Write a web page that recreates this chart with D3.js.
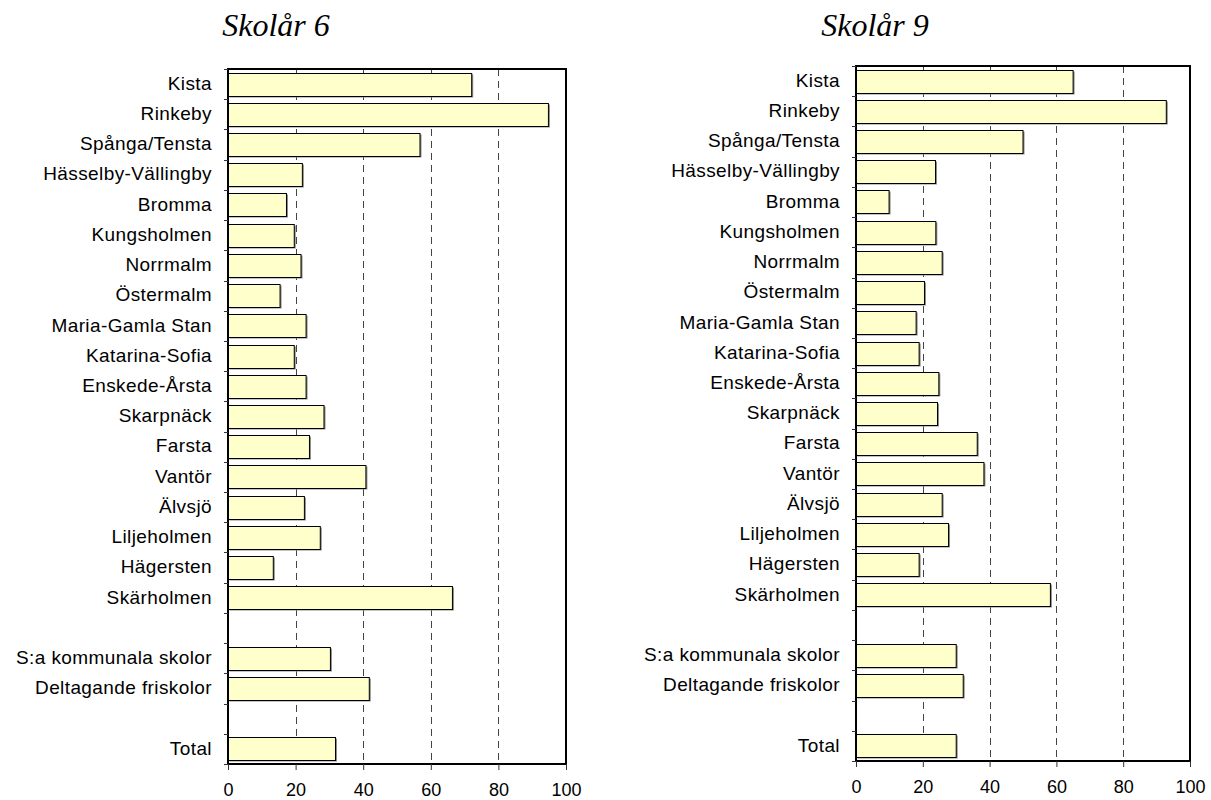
<!DOCTYPE html>
<html>
<head>
<meta charset="utf-8">
<script src="https://cdn.jsdelivr.net/npm/d3@7"></script>
<style>
  html, body { margin: 0; padding: 0; background: #fff; }
  svg { display: block; }
</style>
</head>
<body>
<svg id="visualization" width="1211" height="800"></svg>
<script>
// "" = empty slot between groups
const categories = [
    "Kista", "Rinkeby", "Spånga/Tensta", "Hässelby-Vällingby", "Bromma",
    "Kungsholmen", "Norrmalm", "Östermalm", "Maria-Gamla Stan", "Katarina-Sofia",
    "Enskede-Årsta", "Skarpnäck", "Farsta", "Vantör", "Älvsjö", "Liljeholmen",
    "Hägersten", "Skärholmen", "", "S:a kommunala skolor", "Deltagande friskolor",
    "", "Total"
];

const grade6 = [72.1, 94.8, 56.8, 22.0, 17.3, 19.6, 21.6, 15.4, 23.1, 19.6,
    23.1, 28.4, 24.1, 40.8, 22.6, 27.3, 13.4, 66.4, null, 30.3, 41.8, null, 31.8];
const grade9 = [65.0, 92.9, 50.0, 23.8, 9.9, 23.9, 25.8, 20.5, 18.0, 18.9,
    24.8, 24.4, 36.3, 38.3, 25.8, 27.7, 18.9, 58.2, null, 30.0, 32.1, null, 30.0];

const xTicks = [0, 20, 40, 60, 80, 100];
const titles = ["Skolår 6", "Skolår 9"];

const svg = d3.select("#visualization");

const panels = [
    { title: titles[0], values: grade6, left: 228, right: 566, top: 69, bottom: 764, titleX: 276 },
    { title: titles[1], values: grade9, left: 856, right: 1190, top: 66, bottom: 761, titleX: 875 }
];

const drawPanel = p => {
    const g = svg.append("g");

    const x = d3.scaleLinear().domain([0, 100]).range([p.left, p.right]);
    const y = d3.scaleBand()
        .domain(d3.range(categories.length))
        .range([p.top, p.bottom])
        .paddingInner(0.24)
        .paddingOuter(0.12);
    const step = y.step();

    // title
    g.append("text")
        .attr("x", p.titleX)
        .attr("y", 36)
        .attr("text-anchor", "middle")
        .attr("font-family", "'Liberation Serif', 'Times New Roman', serif")
        .attr("font-style", "italic")
        .attr("font-size", 32)
        .attr("fill", "#000")
        .text(p.title);

    // dashed grid
    g.selectAll("line.grid")
        .data(xTicks.slice(1, -1))
        .join("line")
        .attr("class", "grid")
        .attr("x1", d => Math.round(x(d)) + 0.5)
        .attr("x2", d => Math.round(x(d)) + 0.5)
        .attr("y1", p.top)
        .attr("y2", p.bottom)
        .attr("stroke", "#444")
        .attr("stroke-width", 1)
        .attr("stroke-dasharray", "7,5");

    const rows = categories.map((c, i) => ({ name: c, value: p.values[i], i }));
    const bars = rows.filter(d => d.value != null);

    // bar shadows
    g.selectAll("rect.shadow")
        .data(bars)
        .join("rect")
        .attr("class", "shadow")
        .attr("x", x(0) + 1.5)
        .attr("y", d => Math.round(y(d.i)) + 1.5)
        .attr("width", d => x(d.value) - x(0))
        .attr("height", Math.round(y.bandwidth()))
        .attr("fill", "#8a8a8a");

    // bars
    g.selectAll("rect.bar")
        .data(bars)
        .join("rect")
        .attr("class", "bar")
        .attr("x", x(0))
        .attr("y", d => Math.round(y(d.i)) + 0.5)
        .attr("width", d => x(d.value) - x(0))
        .attr("height", Math.round(y.bandwidth()))
        .attr("fill", "#ffffcc")
        .attr("stroke", "#000")
        .attr("stroke-width", 1);

    // frame
    g.append("rect")
        .attr("x", p.left)
        .attr("y", p.top)
        .attr("width", p.right - p.left)
        .attr("height", p.bottom - p.top)
        .attr("fill", "none")
        .attr("stroke", "#000")
        .attr("stroke-width", 2);

    // y ticks at slot boundaries
    g.selectAll("line.ytick")
        .data(d3.range(categories.length + 1))
        .join("line")
        .attr("class", "ytick")
        .attr("x1", p.left - 4)
        .attr("x2", p.left)
        .attr("y1", i => Math.round(p.top + i * step) + 0.5)
        .attr("y2", i => Math.round(p.top + i * step) + 0.5)
        .attr("stroke", "#333")
        .attr("stroke-width", 1);

    // category labels
    g.selectAll("text.cat")
        .data(rows.filter(d => d.name !== ""))
        .join("text")
        .attr("class", "cat")
        .attr("x", p.left - 16)
        .attr("y", d => y(d.i) + y.bandwidth() / 2)
        .attr("dy", "0.3em")
        .attr("text-anchor", "end")
        .attr("font-family", "'Liberation Sans', Arial, sans-serif")
        .attr("font-size", 19)
        .attr("letter-spacing", 0.4)
        .attr("fill", "#000")
        .text(d => d.name);

    // x axis
    const xAxis = d3.axisBottom(x)
        .tickValues(xTicks)
        .tickSize(6)
        .tickPadding(13)
        .tickFormat(d3.format("d"));

    const axisG = g.append("g")
        .attr("transform", `translate(0, ${p.bottom})`)
        .call(xAxis);
    axisG.select(".domain").remove();
    axisG.selectAll(".tick line").attr("stroke", "#333");
    axisG.selectAll(".tick text")
        .attr("font-family", "'Liberation Sans', Arial, sans-serif")
        .attr("font-size", 18)
        .attr("fill", "#000");
};

panels.forEach(drawPanel);
</script>
</body>
</html>
